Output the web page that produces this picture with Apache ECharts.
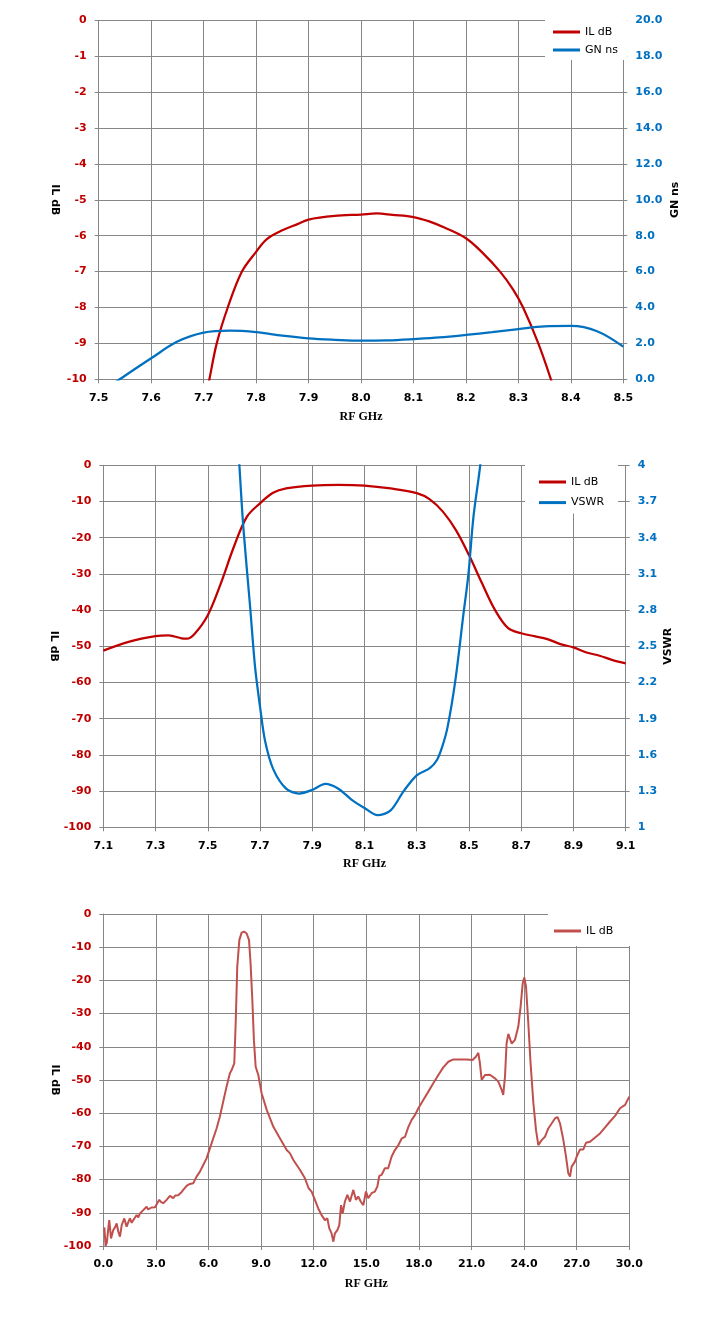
<!DOCTYPE html>
<html>
<head>
<meta charset="utf-8">
<script src="https://cdn.jsdelivr.net/npm/echarts@6/dist/echarts.min.js"></script>
<style>
  html, body { margin: 0; padding: 0; background: #fff; }
  #main { width: 718px; height: 1332px; }
</style>
</head>
<body>
<div id="main"></div>
<script>
// [GHz, value]
var narrowIL = [[7.700, -10.8], [7.711, -10], [7.725, -9], [7.746, -8], [7.773, -7], [7.80, -6.45], [7.82, -6.1],
  [7.85, -5.85], [7.88, -5.67], [7.90, -5.55], [7.95, -5.45], [8.00, -5.41], [8.03, -5.38], [8.06, -5.42],
  [8.10, -5.48], [8.13, -5.6], [8.16, -5.78], [8.20, -6.07], [8.23, -6.45], [8.265, -7], [8.29, -7.5],
  [8.309, -8], [8.338, -9], [8.362, -10], [8.37, -10.4]];
var narrowGD = [[7.50, -0.8], [7.54, 0], [7.60, 1.17], [7.65, 2.1], [7.70, 2.6], [7.75, 2.71], [7.80, 2.63],
  [7.85, 2.43], [7.90, 2.28], [7.95, 2.2], [8.00, 2.15], [8.05, 2.17], [8.10, 2.24], [8.15, 2.33], [8.20, 2.47],
  [8.25, 2.63], [8.30, 2.8], [8.35, 2.95], [8.40, 2.97], [8.45, 2.68], [8.50, 1.82]];

var midIL = [[7.10, -51.2], [7.20, -48.7], [7.30, -47.2], [7.35, -47.0], [7.40, -47.8], [7.42, -47.9], [7.45, -46.5],
  [7.50, -41.4], [7.55, -32.6], [7.60, -22.5], [7.65, -14.2], [7.70, -10.5], [7.75, -7.6], [7.80, -6.4],
  [7.90, -5.6], [8.00, -5.4], [8.10, -5.6], [8.20, -6.4], [8.30, -7.7], [8.35, -9.4], [8.40, -12.8],
  [8.45, -17.9], [8.50, -24.8], [8.55, -32.6], [8.60, -40.0], [8.65, -45.0], [8.70, -46.4], [8.75, -47.2],
  [8.80, -48.0], [8.85, -49.4], [8.90, -50.3], [8.95, -51.7], [9.00, -52.6], [9.05, -53.8], [9.10, -54.7]];
var midVSWR = [[7.610, 4.4], [7.621, 4.0], [7.636, 3.49], [7.662, 2.83], [7.681, 2.33], [7.70, 2.0], [7.719, 1.72],
  [7.751, 1.48], [7.80, 1.32], [7.85, 1.28], [7.90, 1.31], [7.95, 1.36], [8.00, 1.32], [8.05, 1.23],
  [8.10, 1.16], [8.15, 1.10], [8.20, 1.14], [8.25, 1.30], [8.30, 1.43], [8.35, 1.49], [8.378, 1.56],
  [8.398, 1.67], [8.418, 1.83], [8.448, 2.22], [8.479, 2.77], [8.498, 3.10], [8.517, 3.57], [8.543, 4.0], [8.555, 4.3]];

var wideIL = [[0.06, -94.4], [0.13, -100], [0.2, -99], [0.3, -94], [0.34, -92.2], [0.44, -97.7], [0.57, -95.2],
  [0.67, -94.4], [0.76, -93.2], [0.86, -95.7], [0.95, -97.2], [1.05, -93.7], [1.14, -94.0], [1.2, -91.7],
  [1.33, -94.2], [1.45, -92.5], [1.52, -91.7], [1.62, -93.0], [1.71, -92.2], [1.8, -91.5], [1.9, -90.7],
  [2.0, -91.4], [2.09, -90.2], [2.2, -90.6], [2.28, -89.2], [2.38, -89.6], [2.47, -88.2], [2.56, -89.0],
  [2.66, -88.7], [2.75, -88.4], [2.85, -88.0], [2.95, -88.3], [3.04, -87.7], [3.19, -86.1], [3.3, -86.8],
  [3.42, -87.1], [3.52, -86.6], [3.61, -86.1], [3.7, -85.8], [3.8, -84.9], [3.9, -85.4], [3.99, -85.6],
  [4.1, -84.8], [4.18, -84.4], [4.27, -84.7], [4.37, -84.1], [4.46, -83.8], [4.56, -83.1], [4.65, -82.5],
  [4.75, -81.9], [4.85, -81.6], [4.94, -81.3], [5.04, -81.4], [5.13, -81.1], [5.32, -79.1], [5.51, -77.6],
  [5.7, -75.6], [5.89, -73.6], [6.08, -70.6], [6.27, -67.6], [6.46, -64.6], [6.65, -61.0], [6.84, -56.5],
  [7.03, -52.0], [7.22, -48.0], [7.32, -47.0], [7.41, -47.5], [7.47, -45.0], [7.55, -32.9], [7.64, -15.9],
  [7.76, -7.8], [7.89, -5.6], [8.02, -5.3], [8.17, -5.8], [8.31, -7.8], [8.4, -14.9], [8.5, -25.9],
  [8.59, -38.0], [8.69, -46.0], [8.84, -48.5], [9.03, -54.0], [9.32, -59.0], [9.7, -64.1], [10.08, -67.6],
  [10.46, -71.1], [10.65, -72.1], [10.84, -74.1], [11.03, -75.6], [11.22, -77.1], [11.31, -77.6], [11.5, -79.6],
  [11.71, -82.6], [11.88, -83.6], [12.07, -86.1], [12.26, -88.7], [12.45, -90.7], [12.64, -92.2], [12.78, -91.7],
  [12.89, -94.7], [13.02, -96.2], [13.12, -98.7], [13.21, -96.2], [13.35, -95.2], [13.46, -93.7], [13.56, -87.7],
  [13.65, -90.2], [13.78, -86.6], [13.92, -84.6], [14.07, -86.6], [14.26, -83.1], [14.41, -86.1], [14.54, -85.1],
  [14.68, -86.6], [14.83, -87.7], [14.98, -83.6], [15.11, -85.6], [15.3, -84.1], [15.49, -83.6], [15.63, -82.1],
  [15.74, -78.9], [15.87, -78.6], [16.06, -76.6], [16.25, -76.6], [16.44, -73.1], [16.63, -71.1], [16.83, -69.6],
  [17.02, -67.6], [17.21, -67.1], [17.4, -64.1], [17.59, -62.0], [17.78, -60.5], [17.97, -58.5], [18.25, -56.0],
  [18.54, -53.5], [18.82, -51.0], [19.11, -48.5], [19.39, -46.2], [19.68, -44.5], [19.96, -43.8], [20.34, -43.8],
  [20.72, -43.8], [21.06, -44.0], [21.25, -43.0], [21.39, -41.8], [21.48, -45.0], [21.58, -50.0], [21.77, -48.5],
  [22.05, -48.4], [22.34, -49.5], [22.53, -50.5], [22.72, -53.0], [22.81, -54.5], [22.91, -49.0], [23.0, -39.0],
  [23.1, -36.1], [23.29, -39.0], [23.48, -37.9], [23.67, -33.9], [23.8, -27.9], [23.92, -20.9], [24.01, -19.1],
  [24.11, -21.9], [24.24, -32.9], [24.37, -45.0], [24.53, -57.0], [24.68, -65.1], [24.81, -69.6], [25.0, -68.1],
  [25.19, -67.1], [25.38, -64.6], [25.57, -63.1], [25.77, -61.5], [25.91, -61.2], [26.05, -63.1], [26.24, -68.1],
  [26.39, -73.1], [26.52, -78.1], [26.62, -79.1], [26.71, -76.1], [26.9, -74.6], [27.0, -73.1], [27.09, -73.6],
  [27.19, -70.9], [27.38, -70.9], [27.53, -68.9], [27.76, -68.6], [28.05, -67.3], [28.33, -66.1], [28.62, -64.3],
  [28.9, -62.5], [29.19, -60.8], [29.47, -58.5], [29.76, -57.5], [30.0, -55.0]];

var RED = '#C00000', BLUE = '#0070C0', BRICK = '#C0504D', GRID = '#868686';
var LABEL_FONT = 'DejaVu Sans';

function xAxisOf(gridIndex, min, max, interval, digits, nameGap) {
    return {
        type: 'value', gridIndex: gridIndex, min: min, max: max, interval: interval,
        name: 'RF GHz', nameLocation: 'middle', nameGap: nameGap, nameMoveOverlap: false,
        nameTextStyle: { fontFamily: 'Liberation Serif', fontWeight: 'bold', fontSize: 12, color: '#000' },
        axisLine: { show: true, onZero: false, lineStyle: { color: GRID } },
        axisTick: { show: true, inside: false, length: 4, lineStyle: { color: GRID } },
        splitLine: { show: true, lineStyle: { color: GRID, width: 1 } },
        axisLabel: {
            margin: 13, color: '#000', fontFamily: LABEL_FONT, fontWeight: 'bold', fontSize: 11,
            showMinLabel: true, showMaxLabel: true,
            formatter: function (v) { return v.toFixed(digits); }
        }
    };
}

function yAxisOf(gridIndex, pos, min, max, interval, name, color, nameGap, fmt) {
    return {
        type: 'value', gridIndex: gridIndex, position: pos, min: min, max: max, interval: interval,
        name: name, nameLocation: 'middle', nameGap: nameGap, nameMoveOverlap: false,
        nameRotate: pos === 'left' ? -90 : 90,
        nameTextStyle: { fontFamily: LABEL_FONT, fontWeight: 'bold', fontSize: 11, color: '#000' },
        axisLine: { show: true, onZero: false, lineStyle: { color: GRID } },
        axisTick: { show: true, inside: false, length: 4, lineStyle: { color: GRID } },
        splitLine: { show: true, lineStyle: { color: GRID, width: 1 } },
        axisLabel: {
            margin: 12, color: color, fontFamily: LABEL_FONT, fontWeight: 'bold', fontSize: 11,
            showMinLabel: true, showMaxLabel: true,
            formatter: fmt || function (v) { return String(v); }
        }
    };
}

function legendOf(left, top, padding, gap, names) {
    return {
        orient: 'vertical', left: left, top: top, padding: padding, itemGap: gap,
        icon: 'rect', itemWidth: 27, itemHeight: 3, backgroundColor: '#fff', selectedMode: false,
        textStyle: { fontFamily: LABEL_FONT, fontSize: 11, lineHeight: 12, color: '#000' },
        data: names
    };
}

function lineOf(name, xi, yi, data, color, width, smooth) {
    return {
        type: 'line', name: name, xAxisIndex: xi, yAxisIndex: yi, data: data,
        smooth: smooth, symbol: 'none', clip: true,
        lineStyle: { color: color, width: width }, itemStyle: { color: color }
    };
}

var chart = echarts.init(document.getElementById('main'), null, { renderer: 'canvas' });
chart.setOption({
    animation: false,
    backgroundColor: '#fff',
    grid: [
        { left: 98.7, top: 20.3, width: 524.6, height: 359, outerBoundsMode: 'none', containLabel: false },
        { left: 103.3, top: 465.3, width: 522.4, height: 362, outerBoundsMode: 'none', containLabel: false },
        { left: 103.3, top: 914, width: 526, height: 332, outerBoundsMode: 'none', containLabel: false }
    ],
    legend: [
        legendOf(545, 20, [6, 9, 4, 8], 6, ['IL dB', 'GN ns']),
        legendOf(525, 465, [11, 14, 5, 14], 8.6, ['IL dB', 'VSWR']),
        legendOf(548, 914, [11, 18, 9, 6], 6, [{ name: 'IL dB', itemStyle: { color: BRICK } }])
    ],
    xAxis: [
        xAxisOf(0, 7.5, 8.5, 0.1, 1, 32),
        xAxisOf(1, 7.1, 9.1, 0.2, 1, 31),
        xAxisOf(2, 0, 30, 3, 1, 32)
    ],
    yAxis: [
        yAxisOf(0, 'left', -10, 0, 1, 'IL dB', RED, 38),
        yAxisOf(0, 'right', 0, 20, 2, 'GN ns', BLUE, 46, function (v) { return v.toFixed(1); }),
        yAxisOf(1, 'left', -100, 0, 10, 'IL dB', RED, 44),
        yAxisOf(1, 'right', 1, 4, 0.3, 'VSWR', BLUE, 37, function (v) { return String(parseFloat(v.toFixed(1))); }),
        yAxisOf(2, 'left', -100, 0, 10, 'IL dB', RED, 43)
    ],
    series: [
        lineOf('IL dB', 0, 0, narrowIL, RED, 2.25, 0.35),
        lineOf('GN ns', 0, 1, narrowGD, BLUE, 2.25, 0.35),
        lineOf('IL dB', 1, 2, midIL, RED, 2.25, 0.35),
        lineOf('VSWR', 1, 3, midVSWR, BLUE, 2.25, 0.3),
        lineOf('IL dB', 2, 4, wideIL, BRICK, 2, false)
    ]
});
</script>
</body>
</html>
